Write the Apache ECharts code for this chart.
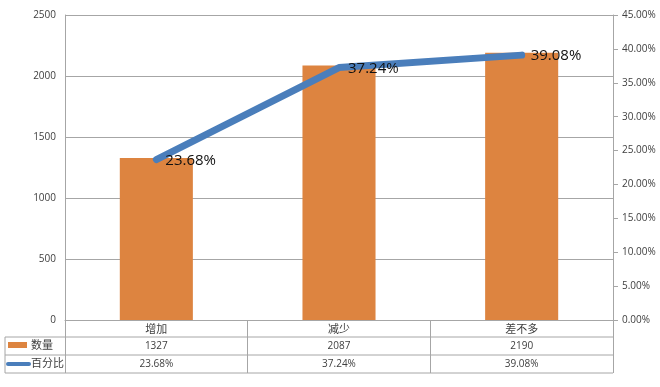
<!DOCTYPE html>
<html><head><meta charset="utf-8">
<script src="https://cdn.jsdelivr.net/npm/echarts@6/dist/echarts.min.js"></script>
<style>html,body{margin:0;padding:0;background:#fff}#c{width:660px;height:387px}</style>
</head><body><div id="c"></div>
<script>
var categories = ['增加', '减少', '差不多'];
var counts = [1327, 2087, 2190];
var percents = [0.2368, 0.3724, 0.3908];
var seriesNames = ['数量', '百分比'];
var leftTicks = {min: 0, max: 2500, interval: 500};
var rightTicks = {min: 0, max: 0.45, interval: 0.05};

var G = {left: 65, right: 47, top: 15, bottom: 67};
var W = 660, H = 387;
var plotR = W - G.right, plotB = H - G.bottom;
var rowH = [17, 18, 18];
var gridCol = '#a6a6a6';
var txt = '#404040';
var font = '"Open Sans", "Noto Sans CJK SC", sans-serif';
function pct(v){ return (v*100).toFixed(2) + '%'; }

var y1 = plotB + rowH[0], y2 = y1 + rowH[1], y3 = y2 + rowH[2];
var graphics = [
  {type:'line', shape:{x1:5,y1:y1,x2:plotR,y2:y1}, style:{stroke:gridCol,lineWidth:1}},
  {type:'line', shape:{x1:5,y1:y2,x2:plotR,y2:y2}, style:{stroke:gridCol,lineWidth:1}},
  {type:'line', shape:{x1:5,y1:y3,x2:plotR,y2:y3}, style:{stroke:gridCol,lineWidth:1}},
  {type:'line', shape:{x1:5,y1:y1,x2:5,y2:y3}, style:{stroke:gridCol,lineWidth:1}},
  {type:'rect', shape:{x:8,y:y1+5,width:19,height:6}, style:{fill:'#dd8440'}},
  {type:'text', style:{x:31,y:(y1+y2)/2,text:seriesNames[0],fill:txt,font:'11px '+font,verticalAlign:'middle'}},
  {type:'line', shape:{x1:8,y1:(y2+y3)/2,x2:29,y2:(y2+y3)/2}, style:{stroke:'#4a7ebb',lineWidth:4,lineCap:'round'}},
  {type:'text', style:{x:31,y:(y2+y3)/2,text:seriesNames[1],fill:txt,font:'11px '+font,verticalAlign:'middle'}}
];

var chart = echarts.init(document.getElementById('c'));
chart.setOption({
  animation:false,
  backgroundColor:'#fff',
  textStyle:{fontFamily:font},
  grid:{left:G.left, right:G.right, top:G.top, bottom:G.bottom, containLabel:false},
  xAxis:[
    {type:'category', data:categories, position:'bottom',
     axisLine:{lineStyle:{color:gridCol}},
     axisTick:{show:true, length:rowH[0]+rowH[1]+rowH[2], lineStyle:{color:gridCol}},
     axisLabel:{color:txt, fontSize:11, margin:4, fontFamily:font}},
    {type:'category', data:categories, position:'bottom', offset:rowH[0],
     axisLine:{show:false}, axisTick:{show:false},
     axisLabel:{color:txt, fontSize:10, margin:4, fontFamily:font,
       formatter:function(v,i){ return String(counts[i]); }}},
    {type:'category', data:categories, position:'bottom', offset:rowH[0]+rowH[1],
     axisLine:{show:false}, axisTick:{show:false},
     axisLabel:{color:txt, fontSize:10, margin:4, fontFamily:font,
       formatter:function(v,i){ return pct(percents[i]); }}}
  ],
  yAxis:[
    {type:'value', min:leftTicks.min, max:leftTicks.max, interval:leftTicks.interval,
     axisLine:{show:true, lineStyle:{color:gridCol}}, axisTick:{show:false},
     splitLine:{lineStyle:{color:gridCol}},
     axisLabel:{color:txt, fontSize:10, margin:9, fontFamily:font, formatter:function(v){return String(v);}}},
    {type:'value', min:rightTicks.min, max:rightTicks.max, interval:rightTicks.interval,
     position:'right',
     axisLine:{show:true, lineStyle:{color:gridCol}},
     axisTick:{show:true, length:5, lineStyle:{color:gridCol}},
     splitLine:{show:false},
     axisLabel:{color:txt, fontSize:10, margin:9, fontFamily:font, formatter:pct}}
  ],
  series:[
    {name:seriesNames[0], type:'bar', data:counts, barWidth:'40%', xAxisIndex:0, yAxisIndex:0,
     itemStyle:{color:'#dd8440'}},
    {name:seriesNames[1], type:'line', data:percents, xAxisIndex:0, yAxisIndex:1,
     showSymbol:true, symbol:'circle', symbolSize:2,
     itemStyle:{color:'#4a7ebb'},
     lineStyle:{color:'#4a7ebb', width:7, cap:'round', join:'round'},
     label:{show:true, position:'right', distance:8, offset:[0,1], color:'#111', fontSize:15, fontFamily:font,
       formatter:function(p){ return pct(p.value); }}}
  ],
  graphic:graphics
});
</script></body></html>
